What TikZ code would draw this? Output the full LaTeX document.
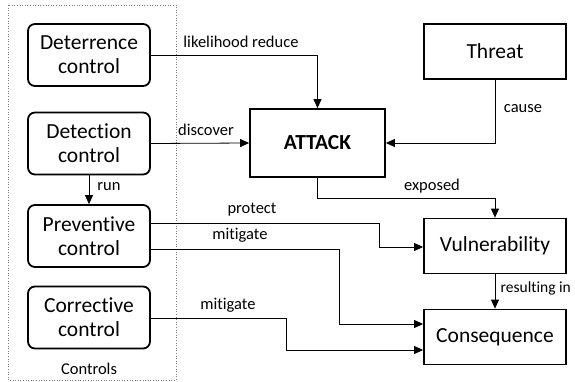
\documentclass[tikz,border=0pt]{standalone}
\usepackage{fontspec}
\setmainfont[Ligatures=NoCommon]{Carlito}
\usetikzlibrary{arrows.meta}
\begin{document}
\begin{tikzpicture}[x=1pt,y=-1pt,
  ctrl/.style={draw,line width=1.8pt,rounded corners=7pt,minimum width=122pt,minimum height=62pt,align=center,font=\fontsize{21.5}{24}\selectfont,inner sep=0pt},
  box/.style={draw,line width=1.8pt,minimum width=142pt,minimum height=55pt,align=center,font=\fontsize{21.5}{24}\selectfont,inner sep=0pt},
  conn/.style={draw,line width=0.8pt,-{Triangle[length=9pt,width=8pt]}},
  lbl/.style={font=\fontsize{16.5}{19}\selectfont,inner sep=1pt}]
\useasboundingbox (0,0) rectangle (575,382);
\draw[gray,dotted,line width=0.6pt] (8,5) rectangle (176,380);
\node[ctrl] (det) at (89,55) {Deterrence\\control};
\node[ctrl] (dtc) at (89,143.5) {Detection\\control};
\node[ctrl] (prv) at (89,236) {Preventive\\control};
\node[ctrl] (cor) at (89,317.5) {Corrective\\control};
\node[lbl] (ctl) at (89,369) {Controls};
\node[draw,line width=1.8pt,minimum width=135pt,minimum height=68pt,inner sep=0pt,font=\bfseries\fontsize{21.5}{24}\selectfont] (att) at (317.5,143) {ATTACK};
\node[box] (thr) at (495,51.5) {Threat};
\node[box] (vul) at (495,246) {Vulnerability};
\node[box] (con) at (495,337) {Consequence};
% connectors
\draw[conn] (det.east) -- (317.5,55) -- (att.north);
\node[lbl] at (241,42) {likelihood reduce};
\draw[conn] (dtc.east) -- (att.west);
\node[lbl] at (206,130) {discover};
\draw[conn] (thr.south) |- (att.east);
\node[lbl] at (523,109) {cause};
\draw[conn] (att.south) -- (317.5,198) -| (vul.north);
\node[lbl] at (432,186) {exposed};
\draw[conn] (dtc.south) -- (prv.north);
\node[lbl] at (109,187) {run};
\draw[conn] (prv.east |- 0,223) -- (379,223) |- (vul.west |- 0,247);
\node[lbl] at (252,210) {protect};
\draw[conn] (prv.east |- 0,249.5) -- (339,249.5) |- (con.west |- 0,324);
\node[lbl] at (240,235) {mitigate};
\draw[conn] (cor.east |- 0,318) -- (286,318) |- (con.west |- 0,350);
\node[lbl] at (228,305) {mitigate};
\draw[conn] (vul.south) -- (con.north);
\node[lbl,anchor=west,font=\fontsize{15.5}{18}\selectfont] at (499.5,288) {resulting in};
\end{tikzpicture}
\end{document}
